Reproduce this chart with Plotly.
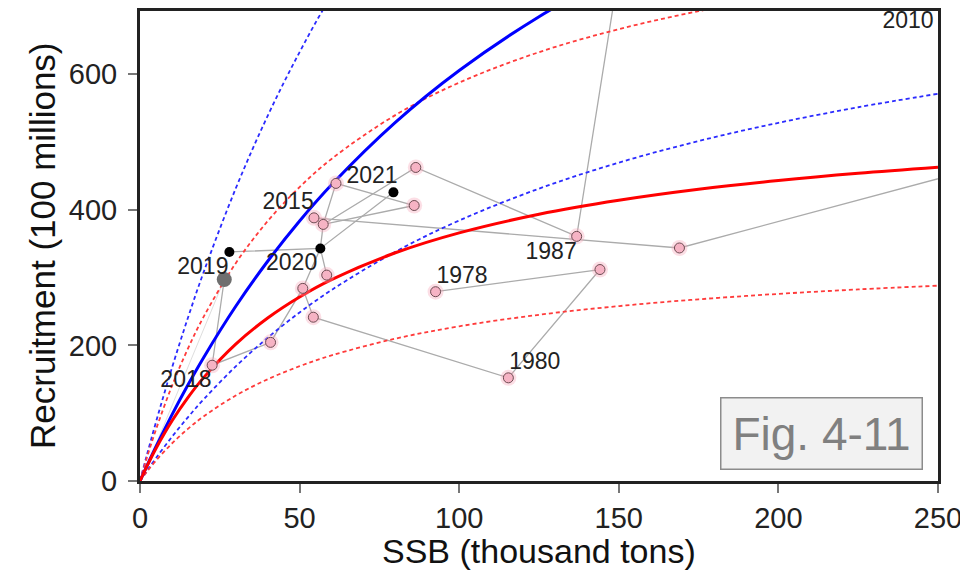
import plotly.graph_objects as go

FONT = "Liberation Sans, Arial, sans-serif"

# stock-recruitment curves
# SSB in thousand tons, recruitment in 100 millions
curve_ssb = [0, 2, 5, 10, 15, 20, 30, 40, 50, 60, 80, 100, 125, 150, 175, 200, 225, 250]
red_fit = [0, 20.2, 48.0, 88.5, 123.0, 152.8, 201.8, 240.3, 271.3, 296.9, 336.5,
           365.9, 393.3, 413.9, 430.1, 443.0, 453.7, 462.6]
red_upper = [0, 31.9, 75.8, 140.0, 195.0, 242.7, 321.2, 383.2, 433.4, 474.9, 539.5,
             587.4, 632.3, 666.2, 692.8, 714.2]
red_lower = [0, 12.7, 30.0, 55.3, 76.9, 95.5, 126.0, 150.0, 169.3, 185.2, 209.9,
             228.1, 245.1, 257.9, 267.9, 275.9, 282.5, 288.0]
blue_fit = [0, 20.6, 50.5, 97.5, 141.5, 182.6, 257.6, 324.0, 383.4, 436.8, 528.8,
            605.3, 684.6, 750.0]
blue_upper = [0, 35.6, 86.8, 166.6, 240.4, 308.8, 431.4, 538.4, 632.4, 715.8, 857.0]
blue_lower = [0, 13.8, 33.8, 65.0, 93.9, 120.7, 169.0, 211.2, 248.5, 281.6, 338.0,
              384.1, 431.1, 469.4, 501.3, 528.1, 551.1, 571.0]

# observed points
obs_ssb = [92.6, 144.1, 115.4, 54.3, 51.0, 58.5, 40.9, 22.6, 54.5, 57.4, 61.4,
           85.9, 86.4, 136.8, 169.0]
obs_rec = [279.1, 311.8, 152.1, 241.5, 284.0, 303.6, 204.4, 170.7, 388.0, 378.3,
           438.8, 406.2, 462.3, 360.7, 343.6]
recent_ssb = [28.0, 56.5, 79.4]
recent_rec = [337.7, 342.9, 425.6]
last_ssb = [26.4]
last_rec = [297.1]

# connecting trajectory (None breaks the line); a few years lie off the chart
path_ssb = [92.6, 144.1, 115.4, 54.3, 51.0, 40.9, 22.6, 26.4, None,
            290, 169.0, 54.5, 57.4, 86.4, 136.8, 155, None,
            57.4, 61.4, 85.9, 57.4, None,
            51.0, 56.5, 58.5, None,
            57.4, 56.5, None,
            28.0, 56.5, 79.4]
path_rec = [279.1, 311.8, 152.1, 241.5, 284.0, 204.4, 170.7, 297.1, None,
            496, 343.6, 388.0, 378.3, 462.3, 360.7, 900, None,
            378.3, 438.8, 406.2, 378.3, None,
            284.0, 342.9, 303.6, None,
            378.3, 342.9, None,
            337.7, 342.9, 425.6]
faint_ssb = [26.4, 0.5]
faint_rec = [297.1, 3]

label_text = ["2021", "2015", "2019", "2020", "2018", "1987", "1978", "1980", "2010"]
label_ssb = [72.7, 46.4, 19.7, 47.5, 14.4, 128.8, 100.9, 123.7, 240.6]
label_rec = [447.8, 409.7, 313.5, 320.1, 147.3, 336.3, 301.1, 173.6, 677.0]

fig = go.Figure()

fig.add_trace(go.Scatter(x=faint_ssb, y=faint_rec, mode="lines",
                         line=dict(color="#dedede", width=1)))
fig.add_trace(go.Scatter(x=path_ssb, y=path_rec, mode="lines",
                         line=dict(color="#ababab", width=1.3)))

dash = "4px,3px"
curves = [
    (blue_upper, "#2b2bff", 1.8, dash),
    (blue_lower, "#2b2bff", 1.8, dash),
    (red_upper, "#ff3b3b", 1.8, dash),
    (red_lower, "#ff3b3b", 1.8, dash),
    (blue_fit, "#0000ff", 3, "solid"),
    (red_fit, "#ff0000", 3, "solid"),
]
for values, color, width, style in curves:
    fig.add_trace(go.Scatter(
        x=curve_ssb[:len(values)], y=values, mode="lines",
        line=dict(color=color, width=width, dash=style, shape="spline"),
    ))

# soft halo behind the pink points
fig.add_trace(go.Scatter(x=obs_ssb, y=obs_rec, mode="markers",
                         marker=dict(size=16, color="rgba(245,160,180,0.35)")))
fig.add_trace(go.Scatter(x=obs_ssb, y=obs_rec, mode="markers",
                         marker=dict(size=10, color="#f6b3c4",
                                     line=dict(color="#6e4b52", width=1))))
fig.add_trace(go.Scatter(x=recent_ssb, y=recent_rec, mode="markers",
                         marker=dict(size=10, color="black")))
fig.add_trace(go.Scatter(x=last_ssb, y=last_rec, mode="markers",
                         marker=dict(size=15, color="#6f6f6f")))

fig.add_trace(go.Scatter(x=label_ssb, y=label_rec, mode="text", text=label_text,
                         cliponaxis=False,
                         textfont=dict(family=FONT, size=23, color="#222222")))

axis_common = dict(
    showgrid=False, zeroline=False,
    showline=True, linecolor="#222222", linewidth=3, mirror=True,
    ticks="outside", ticklen=9, tickwidth=1.5, tickcolor="#777777",
    tickfont=dict(family=FONT, size=29, color="#222222"),
)

fig.update_xaxes(range=[0, 250], tickvals=[0, 50, 100, 150, 200, 250],
                 ticklabelstandoff=0, **axis_common)
fig.update_yaxes(range=[0, 693], tickvals=[0, 200, 400, 600],
                 ticklabelstandoff=5, **axis_common)

# the page adds an 8px body margin, so the margins are trimmed to match
fig.update_layout(
    width=968, height=572,
    margin=dict(l=132, r=38, t=0, b=99),
    plot_bgcolor="white", paper_bgcolor="white",
    showlegend=False,
    annotations=[
        dict(text="SSB (thousand tons)", xref="paper", yref="paper", x=0.5, y=0,
             yshift=-70, showarrow=False, yanchor="middle",
             font=dict(family=FONT, size=34, color="#111111")),
        dict(text="Recruitment (100 millions)", xref="paper", yref="paper", x=0, y=0.5,
             xshift=-98, showarrow=False, textangle=-90, xanchor="center",
             font=dict(family=FONT, size=35, color="#111111")),
        dict(text="Fig. 4-11", x=213.5, y=70.3, showarrow=False,
             width=200, height=70, borderpad=0,
             bgcolor="#f2f2f2", bordercolor="#8c8c8c", borderwidth=1.5,
             font=dict(family=FONT, size=46, color="#808080")),
    ],
)

fig.write_html("out.html")
